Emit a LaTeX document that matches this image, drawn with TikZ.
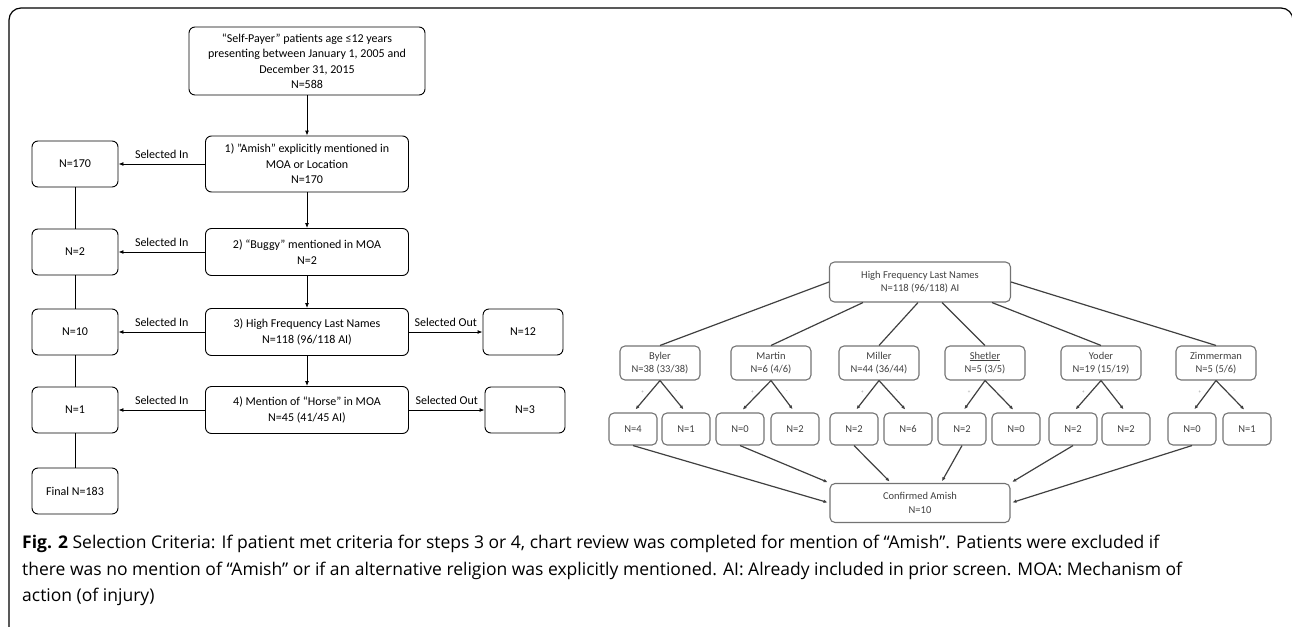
\documentclass[tikz,border=0pt]{standalone}
\usepackage{fontspec}
\setmainfont{Carlito}
\newfontfamily\capfont{Open Sans}
\usetikzlibrary{arrows.meta}

\begin{document}
\begin{tikzpicture}[x=1pt, y=-1pt, every node/.style={font=\fontsize{12}{15.5}\selectfont}, box/.style={draw, rounded corners=6pt, align=center, inner sep=2pt, line width=0.9pt}, side/.style={box, minimum width=86pt, minimum height=46pt}, stepbox/.style={box, minimum width=203pt, minimum height=47pt}, gbox/.style={draw=black!55, rounded corners=5pt, align=center, inner sep=1pt, line width=1.1pt, text=black!75, font=\fontsize{10.5}{13.5}\selectfont}, arr/.style={-{Latex[length=5pt, width=4pt]}, line width=0.9pt}, gline/.style={draw=black!75, line width=1.2pt}, garr/.style={gline, -{Latex[length=4pt, width=3.5pt]}}, sign/.style={font=\fontsize{5}{5}\selectfont, text=black!40, inner sep=1pt}]
	\useasboundingbox (0,0) rectangle (1292,626);
	\draw[line width=1.2pt, rounded corners=12pt] (9,8) rectangle (1293,640);
	% selection steps
	\node[box, minimum width=236pt, minimum height=68pt] (pop) at (307,61) {“Self-Payer” patients age ≤12 years\\presenting between January 1, 2005 and\\December 31, 2015\\N=588};
	\node[stepbox, minimum height=56pt] (s1) at (307,164) {1) "Amish" explicitly mentioned in\\MOA or Location\\N=170};
	\node[stepbox] (s2) at (307,252) {2) “Buggy” mentioned in MOA\\N=2};
	\node[stepbox] (s3) at (307,332) {3) High Frequency Last Names\\N=118 (96/118 AI)};
	\node[stepbox] (s4) at (307,410) {4) Mention of “Horse” in MOA\\N=45 (41/45 AI)};
	\node[side] (in1) at (75,164) {N=170};
	\node[side] (in2) at (75,252) {N=2};
	\node[side] (in3) at (75,332) {N=10};
	\node[side] (in4) at (75,410) {N=1};
	\node[side] (fin) at (75,491) {Final N=183};
	\node[side, minimum width=80pt] (out3) at (523,332) {N=12};
	\node[side, minimum width=80pt] (out4) at (525,410) {N=3};
	\draw[arr] (pop) -- (s1);
	\foreach \a/\b in {s1/s2, s2/s3, s3/s4} {\draw[arr] (\a) -- (\b);}
	\foreach \i in {1,2,3,4} {\draw[arr] (s\i) -- node[above=2pt] {Selected In} (in\i);}
	\foreach \i in {3,4} {\draw[arr] (s\i) -- node[above=2pt] {Selected Out} (out\i);}
	\draw[line width=0.9pt] (in1) -- (in2) (in2) -- (in3) (in3) -- (in4) (in4) -- (fin);
	% last name tree
	\node[gbox, minimum width=181pt, minimum height=40pt] (hfl) at (920,282) {High Frequency Last Names\\N=118 (96/118) AI};
	\foreach \n/\x/\t in {byl/660/{Byler\\N=38 (33/38)}, mar/771/{Martin\\N=6 (4/6)}, mil/879/{Miller\\N=44 (36/44)}, she/985/{\underline{Shetler}\\N=5 (3/5)}, yod/1101/{Yoder\\N=19 (15/19)}, zim/1216/{Zimmerman\\N=5 (5/6)}} {\node[gbox, minimum width=80pt, minimum height=34pt] (\n) at (\x,363) {\t};}
	\foreach \n/\x/\y/\p/\m in {byl/633/686/4/1, mar/740/795/0/2, mil/854/908/2/6, she/962/1016/2/0, yod/1073/1126/2/2, zim/1192/1247/0/1} {
		\node[gbox, minimum width=48pt, minimum height=32pt] (\n p) at (\x,429) {N=\p};
		\node[gbox, minimum width=48pt, minimum height=32pt] (\n m) at (\y,429) {N=\m};
		\draw[garr, shorten >=4pt] (\n.south) -- node[sign, left=5pt, pos=0.35] {+} (\n p.north);
		\draw[garr, shorten >=4pt] (\n.south) -- node[sign, right=5pt, pos=0.35] {-} (\n m.north);
	}
	\node[gbox, minimum width=180pt, minimum height=39pt] (conf) at (920,503) {Confirmed Amish\\N=10};
	\draw[gline] (hfl.west) -- (byl.north);
	\draw[gline] ([xshift=-57pt]hfl.south) -- (mar.north);
	\draw[gline] ([xshift=-2pt]hfl.south) -- (mil.north);
	\draw[gline] ([xshift=22pt]hfl.south) -- (she.north);
	\draw[gline] ([xshift=72pt]hfl.south) -- (yod.north);
	\draw[gline] (hfl.east) -- (zim.north);
	\draw[garr, shorten >=2pt] (bylp.south) -- (conf.west);
	\draw[garr, shorten >=2pt] (marp.south) -- (conf.north west);
	\draw[garr, shorten >=2pt] (milp.south) -- ([xshift=-29pt]conf.north);
	\draw[garr, shorten >=2pt] (shep.south) -- ([xshift=21pt]conf.north);
	\draw[garr, shorten >=2pt] (yodp.south) -- (conf.north east);
	\draw[garr, shorten >=2pt] (zimp.south) -- (conf.east);
	% caption
	\node[anchor=north west, align=left, inner sep=0pt, font=\capfont\fontsize{17.5}{26.5}\selectfont] (cap) at (22,535) {\textbf{Fig. 2} Selection Criteria: If patient met criteria for steps 3 or 4, chart review was completed for mention of “Amish”. Patients were excluded if\\there was no mention of “Amish” or if an alternative religion was explicitly mentioned. AI: Already included in prior screen. MOA: Mechanism of\\action (of injury)};
\end{tikzpicture}
\end{document}
